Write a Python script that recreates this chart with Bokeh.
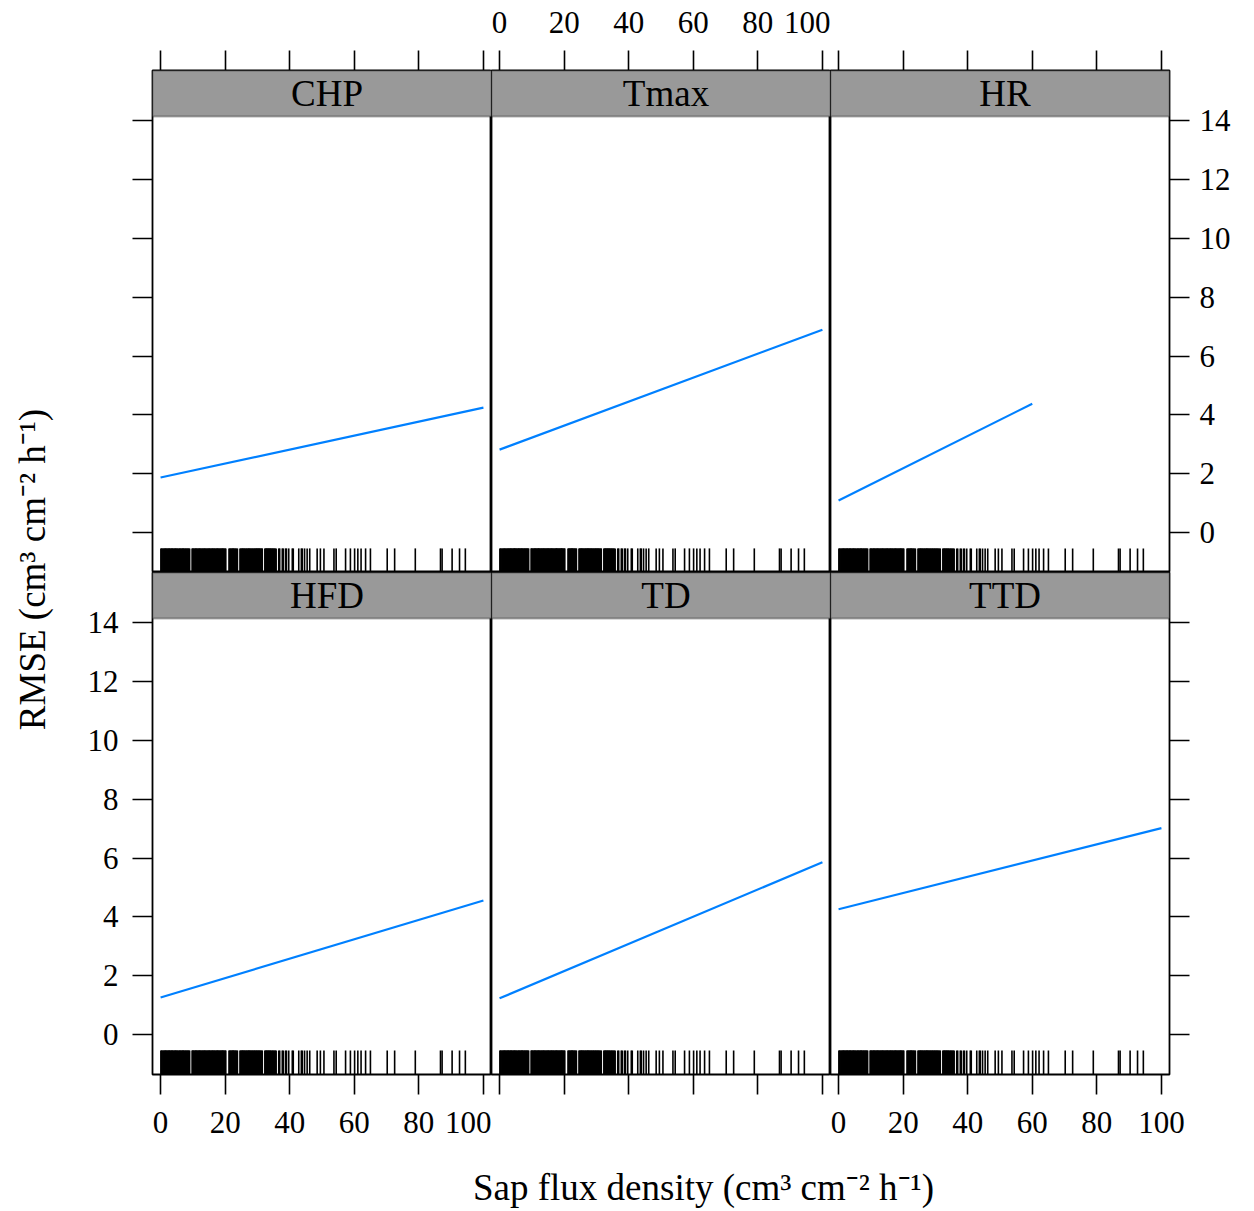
import math

from bokeh.embed import file_html
from bokeh.layouts import column, gridplot, row
from bokeh.models import (BoxAnnotation, CustomJSTickFormatter, FixedTicker,
                          Label, LinearAxis, Range1d)
from bokeh.plotting import figure
from bokeh.resources import INLINE

# ---- data -------------------------------------------------------------
panels = ["CHP", "Tmax", "HR", "HFD", "TD", "TTD"]

# fitted RMSE trend per model: start / end of the sap-flux span
fit_x_start = [0, 0, 0, 0, 0, 0]
fit_x_end = [100, 100, 60, 100, 100, 100]
fit_y_start = [1.87, 2.82, 1.09, 1.26, 1.23, 4.26]
fit_y_end = [4.25, 6.90, 4.38, 4.56, 5.86, 7.02]

# observed sap flux densities (rug)
sap_flux = [0.1, 0.3, 0.4, 0.7, 0.9, 1.1, 1.3, 1.5, 1.6, 1.8, 2.0, 2.2, 2.4,
            2.6, 2.7, 2.9, 3.1, 3.3, 3.5, 3.6, 3.8, 4.0, 4.2, 4.4, 4.6, 4.7,
            4.9, 5.1, 5.3, 5.5, 5.8, 5.9, 6.1, 6.3, 6.5, 6.7, 6.9, 7.0, 7.2,
            7.4, 7.6, 7.8, 8.0, 8.2, 8.4, 8.6, 8.8, 9.0, 9.8, 9.9, 10.1, 10.3,
            10.5, 10.7, 10.9, 11.0, 11.2, 11.4, 11.6, 11.8, 12.0, 12.1, 12.3,
            12.5, 12.7, 12.9, 13.1, 13.3, 13.5, 13.6, 13.8, 14.0, 14.2, 14.4,
            14.6, 14.8, 15.0, 15.1, 15.3, 15.5, 15.7, 15.9, 16.1, 16.2, 16.4,
            16.6, 16.8, 17.0, 17.2, 17.4, 17.6, 17.7, 17.9, 18.1, 18.3, 18.5,
            18.7, 18.9, 19.1, 19.2, 19.4, 19.6, 19.8, 20.0, 20.2, 21.2, 21.4,
            21.6, 21.8, 22.0, 22.2, 22.4, 22.5, 22.7, 22.9, 23.1, 23.3, 23.6,
            23.8, 24.6, 24.8, 25.0, 25.2, 25.4, 25.5, 25.7, 25.9, 26.1, 26.3,
            26.5, 26.7, 26.9, 27.1, 27.3, 27.4, 27.6, 27.8, 28.0, 28.2, 28.4,
            28.6, 28.8, 29.0, 29.2, 29.4, 29.6, 29.8, 30.0, 30.2, 30.4, 30.6,
            30.8, 31.0, 31.3, 31.5, 32.3, 32.5, 32.7, 32.9, 33.1, 33.3, 33.5,
            33.7, 33.9, 34.1, 34.3, 34.6, 34.8, 35.0, 35.3, 35.5, 35.8, 36.6,
            36.9, 37.7, 38.0, 38.7, 39.0, 39.7, 40.8, 41.1, 42.8, 43.6, 43.9,
            44.6, 45.4, 46.2, 48.5, 49.5, 50.6, 53.7, 54.4, 57.3, 58.8, 60.1,
            61.1, 62.1, 63.5, 65.0, 70.2, 72.5, 78.9, 86.7, 87.2, 90.3, 92.6,
            94.4]

x_ticks = [0, 20, 40, 60, 80, 100]
y_ticks = [0, 2, 4, 6, 8, 10, 12, 14]

# ---- styling ----------------------------------------------------------
FONT = "Liberation Serif"
BLUE = "#0080ff"
STRIP = "#999999"
X_LO, X_HI = -2.5, 102.5
Y_LO, Y_HI = -1.36, 14.15
STRIP_H = 1.565            # strip height in RMSE units
Y_TOP = Y_HI + STRIP_H
RUG_LEN = 0.82

FRAME_W, FRAME_H = 339, 502
LEFT_B, RIGHT_B, TOP_B, BOTTOM_B = 82, 85, 70, 82


def make_axis(ticks, show_labels, standoff):
    ax = LinearAxis(ticker=FixedTicker(ticks=ticks))
    ax.axis_line_color = None
    ax.major_tick_in = 0
    ax.major_tick_out = 20
    ax.major_tick_line_width = 1.6
    ax.major_tick_line_color = "black"
    ax.minor_tick_line_color = None
    ax.major_label_text_font = FONT
    ax.major_label_text_font_size = "31px"
    ax.major_label_text_color = "black"
    ax.major_label_standoff = standoff
    if not show_labels:
        ax.formatter = CustomJSTickFormatter(code="return ''")
    return ax


def make_panel(i):
    r, c = divmod(i, 3)
    p = figure(frame_width=FRAME_W, frame_height=FRAME_H,
               x_range=Range1d(X_LO, X_HI), y_range=Range1d(Y_LO, Y_TOP),
               x_axis_type=None, y_axis_type=None,
               output_backend="svg", toolbar_location=None)
    p.min_border_left = LEFT_B if c == 0 else 0
    p.min_border_right = RIGHT_B if c == 2 else 0
    p.min_border_top = TOP_B if r == 0 else 0
    p.min_border_bottom = BOTTOM_B if r == 1 else 0
    p.outline_line_color = "black"
    p.outline_line_width = 1.8
    p.background_fill_color = "white"
    p.border_fill_color = "white"

    # outer tick marks, labels alternating as in a trellis layout
    if r == 0:
        p.add_layout(make_axis(x_ticks, c == 1, 18), "above")
    else:
        p.add_layout(make_axis(x_ticks, c != 1, 17), "below")
    if c == 0:
        p.add_layout(make_axis(y_ticks, r == 1, 14), "left")
    if c == 2:
        p.add_layout(make_axis(y_ticks, r == 0, 10), "right")

    # strip with the model name
    p.add_layout(BoxAnnotation(bottom=Y_HI, fill_color=STRIP, fill_alpha=1.0,
                               line_color="black", line_width=1.8))
    p.add_layout(Label(x=(X_LO + X_HI) / 2, y=Y_HI + STRIP_H / 2,
                       x_offset=5, text=panels[i], text_align="center",
                       text_baseline="middle", text_font=FONT,
                       text_font_size="37px", text_color="black"))

    # rug of observations
    p.segment(x0=sap_flux, y0=[Y_LO] * len(sap_flux),
              x1=sap_flux, y1=[Y_LO + RUG_LEN] * len(sap_flux),
              line_color="black", line_width=1.6)

    # fitted trend
    p.line(x=[fit_x_start[i], fit_x_end[i]], y=[fit_y_start[i], fit_y_end[i]],
           line_color=BLUE, line_width=2.2)
    return p


figs = [make_panel(i) for i in range(6)]
grid = gridplot([figs[0:3], figs[3:6]], toolbar_location=None)

GRID_H = TOP_B + 2 * FRAME_H + BOTTOM_B
TOTAL_W, TOTAL_H = 1254, 1211
YLAB_W = 152 - LEFT_B


def text_canvas(w, h):
    f = figure(width=w, height=h, x_range=Range1d(0, w), y_range=Range1d(0, h),
               x_axis_type=None, y_axis_type=None, min_border=0,
               output_backend="svg", toolbar_location=None)
    f.outline_line_color = None
    f.background_fill_color = "white"
    f.border_fill_color = "white"
    return f


ylab = text_canvas(YLAB_W, GRID_H)
ylab.add_layout(Label(x=32, y=GRID_H - 569, text="RMSE (cm³ cm⁻² h⁻¹)",
                      angle=math.pi / 2, text_align="center",
                      text_baseline="middle", text_font=FONT,
                      text_font_size="37px", text_color="black"))

xlab = text_canvas(TOTAL_W, TOTAL_H - GRID_H)
xlab.add_layout(Label(x=703, y=(TOTAL_H - GRID_H) - (1187 - GRID_H),
                      text="Sap flux density (cm³ cm⁻² h⁻¹)",
                      text_align="center", text_baseline="middle",
                      text_font=FONT, text_font_size="37px",
                      text_color="black"))

page = column(row(ylab, grid), xlab)

with open("out.html", "w") as fh:
    fh.write(file_html(page, INLINE))
